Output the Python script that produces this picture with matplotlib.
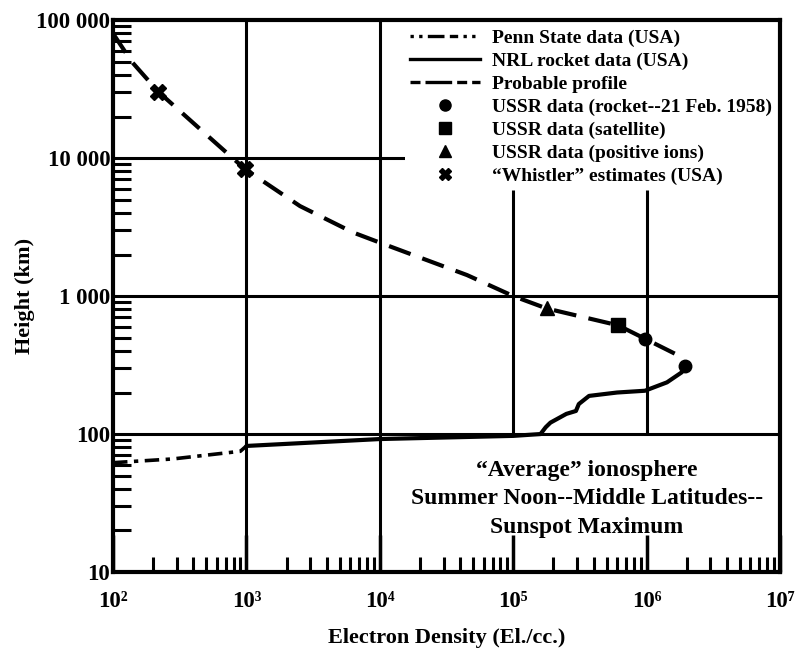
import matplotlib
matplotlib.use("Agg")
import matplotlib.pyplot as plt
from matplotlib.lines import Line2D

plt.rcParams['font.family'] = ['Liberation Serif', 'DejaVu Serif']
plt.rcParams['font.weight'] = 'bold'

# data (electron density in El./cc., height in km)
penn_x = [100, 280, 900, 1000]
penn_y = [62, 66, 75, 82]

nrl_x = [1000, 1e4, 1e5, 1.6e5, 1.75e5, 1.9e5, 2.5e5, 2.95e5, 3.1e5, 3.7e5,
         6e5, 9.7e5, 1.42e6, 1.83e6, 1.95e6]
nrl_y = [82, 92, 97, 100, 112, 121, 140, 147, 165, 189,
         200, 206, 237, 280, 305]

prob_x = [100, 138, 219, 500, 980, 2520, 6300, 1e4, 4.5e4, 1e5, 1.78e5,
          6.1e5, 9.7e5, 1.63e6, 1.95e6]
prob_y = [80000, 50000, 30200, 14800, 8300, 4490, 2890, 2440, 1420, 1000, 813,
          614, 491, 382, 310]

rocket_x = [9.7e5, 1.95e6]
rocket_y = [491, 310]
sat_x = [6.1e5]
sat_y = [614]
ions_x = [1.78e5]
ions_y = [813]
whistler_x = [219, 980]
whistler_y = [30200, 8300]

xticks = [1e2, 1e3, 1e4, 1e5, 1e6, 1e7]
xticklabels = ['10²', '10³', '10⁴', '10⁵', '10⁶', '10⁷']
yticks = [10, 100, 1000, 10000, 100000]
yticklabels = ['10', '100', '1 000', '10 000', '100 000']

fig = plt.figure(figsize=(7.96, 6.49), dpi=100)
ax = fig.add_axes([0.142, 0.1186, 0.838, 0.8504])
ax.set_xscale('log')
ax.set_yscale('log')
ax.set_xlim(1e2, 1e7)
ax.set_ylim(10, 1e5)

# grid lines, partly hidden behind legend and text block
glw = 2.2
ax.vlines([1e3, 1e4], 10, 1e5, colors='k', lw=glw, zorder=1)
ax.vlines([1e5, 1e6], 100, 5900, colors='k', lw=glw, zorder=1)
ax.hlines([100, 1000], 1e2, 1e7, colors='k', lw=glw, zorder=1)
ax.hlines([10000], 1e2, 15500, colors='k', lw=glw, zorder=1)

penn_dash = (4, 1.8, 1.2, 1.8)
ax.plot(penn_x, penn_y, color='k', lw=2.6, dashes=penn_dash, zorder=3)
ax.plot(nrl_x, nrl_y, color='k', lw=3.0, solid_capstyle='round', zorder=3)
ax.plot(prob_x, prob_y, color='k', lw=3.0, dashes=(5.5, 3), zorder=3)

ax.plot(rocket_x, rocket_y, 'o', color='k', ms=9, zorder=4)
ax.plot(sat_x, sat_y, 's', color='k', ms=10, zorder=4)
ax.plot(ions_x, ions_y, '^', color='k', ms=10, zorder=4)
ax.plot(whistler_x, whistler_y, 'X', color='k', ms=12, zorder=4)

handles = [
    Line2D([], [], color='k', lw=2.4, dashes=(1, 1.6, 1, 1.6, 5, 1.6, 2.5, 1.6)),
    Line2D([], [], color='k', lw=2.4),
    Line2D([], [], color='k', lw=2.4, dashes=(3, 1.5, 8, 1.5)),
    Line2D([], [], ls='none', marker='o', color='k', ms=8),
    Line2D([], [], ls='none', marker='s', color='k', ms=8),
    Line2D([], [], ls='none', marker='^', color='k', ms=8),
    Line2D([], [], ls='none', marker='X', color='k', ms=9),
]
labels = [
    'Penn State data (USA)',
    'NRL rocket data (USA)',
    'Probable profile',
    'USSR data (rocket--21 Feb. 1958)',
    'USSR data (satellite)',
    'USSR data (positive ions)',
    '\u201cWhistler\u201d estimates (USA)',
]
leg = ax.legend(handles, labels, loc='upper right', bbox_to_anchor=(0.995, 0.992),
                fontsize=14, frameon=True, facecolor='white', edgecolor='none',
                framealpha=1, handlelength=3.6, handletextpad=0.6,
                labelspacing=0.27, borderpad=0.25, borderaxespad=0)
leg.set_zorder(2)

ax.text(10**5.55, 10**1.53,
        '\u201cAverage\u201d ionosphere\nSummer Noon--Middle Latitudes--\nSunspot Maximum',
        ha='center', va='center', fontsize=17, fontweight='bold',
        linespacing=1.45, zorder=6)

ax.set_xticks(xticks)
ax.set_xticklabels(xticklabels)
ax.set_yticks(yticks)
ax.set_yticklabels(yticklabels)
ax.tick_params(axis='both', which='major', direction='in', width=2.5, labelsize=16.5)
ax.tick_params(axis='x', which='major', length=27, pad=14)
ax.tick_params(axis='y', which='major', length=0, pad=2)
ax.tick_params(axis='both', which='minor', direction='in', width=2.2, length=11)
ax.tick_params(axis='y', which='minor', length=13)
ax.tick_params(axis='x', which='minor', labelbottom=False)
ax.tick_params(axis='y', which='minor', labelleft=False)

for s in ax.spines.values():
    s.set_linewidth(3)
    s.set_zorder(7)

ax.set_xlabel('Electron Density (El./cc.)', fontsize=16, fontweight='bold', labelpad=11)
ax.set_ylabel('Height (km)', fontsize=16, fontweight='bold', labelpad=1)

fig.savefig('out.png', dpi=100)
